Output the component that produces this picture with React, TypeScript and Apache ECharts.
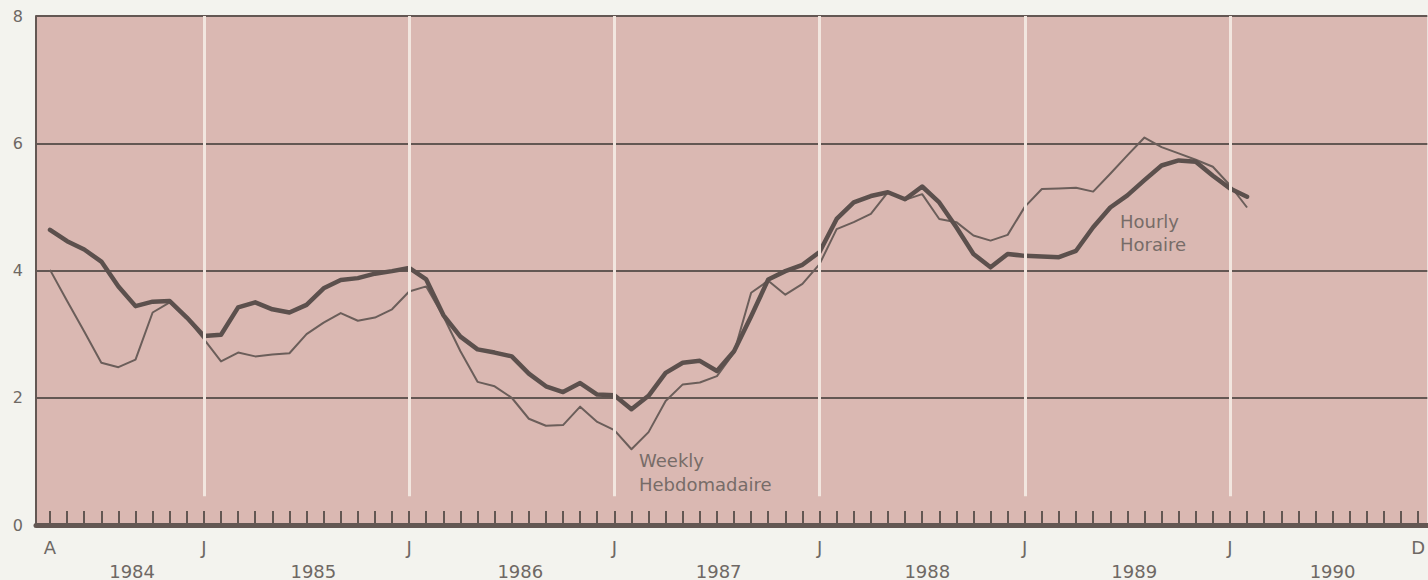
import React, { useEffect, useRef } from "react";
import * as echarts from "echarts";

// Month index 0 = April 1984 ... 80 = December 1990
const hourly = [
  4.64, 4.46, 4.33, 4.14, 3.75, 3.44, 3.51, 3.52, 3.26, 2.97,
  2.99, 3.42, 3.5, 3.39, 3.34, 3.46, 3.72, 3.85, 3.88, 3.95,
  3.99, 4.04, 3.86, 3.3, 2.96, 2.76, 2.71, 2.65, 2.38, 2.18,
  2.09, 2.23, 2.05, 2.04, 1.82, 2.03, 2.39, 2.55, 2.58, 2.42,
  2.73, 3.28, 3.86, 3.99, 4.09, 4.29, 4.81, 5.07, 5.17, 5.23,
  5.12, 5.32, 5.07, 4.68, 4.26, 4.05, 4.26, 4.23, 4.22, 4.21,
  4.31, 4.68, 4.99, 5.18, 5.42, 5.65, 5.73, 5.71, 5.49, 5.29,
  5.16,
];

const weekly = [
  4.01, 3.52, 3.04, 2.55, 2.48, 2.6, 3.34, 3.5, 3.25, 2.92,
  2.57, 2.71, 2.65, 2.68, 2.7, 3.0, 3.18, 3.33, 3.21, 3.26,
  3.39, 3.67, 3.75, 3.28, 2.73, 2.25, 2.18, 2.0, 1.67, 1.56,
  1.57, 1.86, 1.62, 1.49, 1.19, 1.46, 1.95, 2.21, 2.24, 2.34,
  2.71, 3.65, 3.84, 3.62, 3.79, 4.1, 4.65, 4.76, 4.89, 5.23,
  5.11, 5.2, 4.81, 4.76, 4.55, 4.47, 4.56, 5.0, 5.28, 5.29,
  5.3, 5.24, 5.52, 5.81, 6.09, 5.94, 5.84, 5.74, 5.63, 5.34,
  4.99,
];

const monthTickPos = Array.from({ length: 81 }, (_, i) => i);
const monthLabelPos = [0, 9, 21, 33, 45, 57, 69, 80];
const monthLabels = ["A", "J", "J", "J", "J", "J", "J", "D"];
const januaryPos = [9, 21, 33, 45, 57, 69];
const yearLabelPos = [4.8, 15.4, 27.5, 39.1, 51.3, 63.4, 75.0];
const yearLabels = ["1984", "1985", "1986", "1987", "1988", "1989", "1990"];
const yTicks = [0, 2, 4, 6, 8];

const FONT = '"DejaVu Sans", sans-serif';
const DARK = "#635753";
const TEXT = "#6e6864";

export default function App() {
  const ref = useRef<HTMLDivElement>(null);

  useEffect(() => {
    if (!ref.current) return;
    const chart = echarts.init(ref.current, undefined, { renderer: "svg" });
    const xMin = -0.82;
    const xMax = 80.54;
    const option: any = {
      animation: false,
      backgroundColor: "#f3f3ee",
      grid: {
        left: 36,
        right: 0,
        top: 16,
        bottom: 55,
        show: true,
        backgroundColor: "#dab8b2",
        borderWidth: 0,
      },
      xAxis: [
        {
          type: "value",
          min: xMin,
          max: xMax,
          z: 2,
          axisLine: { show: true, onZero: false, lineStyle: { color: DARK, width: 5 } },
          axisTick: {
            show: true,
            inside: true,
            length: 14,
            customValues: monthTickPos,
            lineStyle: { color: DARK, width: 2 },
          },
          axisLabel: {
            show: true,
            customValues: monthLabelPos,
            formatter: (v: number) => {
              const i = monthLabelPos.indexOf(Math.round(v));
              return i >= 0 ? monthLabels[i] : "";
            },
            fontFamily: FONT,
            fontSize: 18,
            color: TEXT,
            margin: 13,
          },
          splitLine: { show: false },
        },
        {
          type: "value",
          min: xMin,
          max: xMax,
          position: "bottom",
          axisLine: { show: false, onZero: false },
          axisTick: { show: false },
          splitLine: { show: false },
          axisLabel: {
            show: true,
            customValues: yearLabelPos,
            formatter: (v: number) => {
              let best = 0;
              let bd = 1e9;
              yearLabelPos.forEach((p, i) => {
                const d = Math.abs(p - v);
                if (d < bd) {
                  bd = d;
                  best = i;
                }
              });
              return yearLabels[best];
            },
            fontFamily: FONT,
            fontSize: 18,
            color: TEXT,
            margin: 37,
          },
        },
      ],
      yAxis: {
        type: "value",
        min: 0,
        max: 8,
        interval: 2,
        z: 2,
        axisLine: { show: true, onZero: false, lineStyle: { color: DARK, width: 2 } },
        axisTick: { show: false },
        axisLabel: {
          fontFamily: FONT,
          fontSize: 16,
          color: TEXT,
          margin: 13,
          formatter: (v: number) => (yTicks.includes(v) ? String(v) : ""),
        },
        splitLine: { show: true, lineStyle: { color: DARK, width: 2 } },
      },
      series: [
        {
          type: "line",
          name: "januaryLines",
          data: [],
          z: 1,
          silent: true,
          markLine: {
            silent: true,
            symbol: ["none", "none"],
            label: { show: false },
            lineStyle: { color: "#f2e6df", width: 3, type: "solid" },
            data: januaryPos.map((m) => [{ coord: [m, 0.45] }, { coord: [m, 8] }]),
          },
        },
        {
          type: "line",
          name: "Weekly",
          z: 3,
          data: weekly.map((v, i) => [i, v]),
          showSymbol: false,
          symbol: "none",
          lineStyle: { color: "#6b5e5a", width: 2, join: "round" },
        },
        {
          type: "line",
          name: "Hourly",
          z: 4,
          data: hourly.map((v, i) => [i, v]),
          showSymbol: false,
          symbol: "none",
          lineStyle: { color: "#5c504d", width: 4.5, join: "round", cap: "round" },
        },
      ],
      graphic: [
        {
          type: "text",
          x: 1120,
          y: 221,
          style: { text: "Hourly", fill: "#776c68", font: `18px ${FONT}`, verticalAlign: "middle" },
        },
        {
          type: "text",
          x: 1120,
          y: 244,
          style: { text: "Horaire", fill: "#776c68", font: `18px ${FONT}`, verticalAlign: "middle" },
        },
        {
          type: "text",
          x: 639,
          y: 460,
          style: { text: "Weekly", fill: "#776c68", font: `18px ${FONT}`, verticalAlign: "middle" },
        },
        {
          type: "text",
          x: 639,
          y: 484,
          style: { text: "Hebdomadaire", fill: "#776c68", font: `18px ${FONT}`, verticalAlign: "middle" },
        },
      ],
    };
    chart.setOption(option);
    return () => chart.dispose();
  }, []);

  return (
    <div
      ref={ref}
      style={{ position: "absolute", left: 0, top: 0, width: 1428, height: 580 }}
    />
  );
}
